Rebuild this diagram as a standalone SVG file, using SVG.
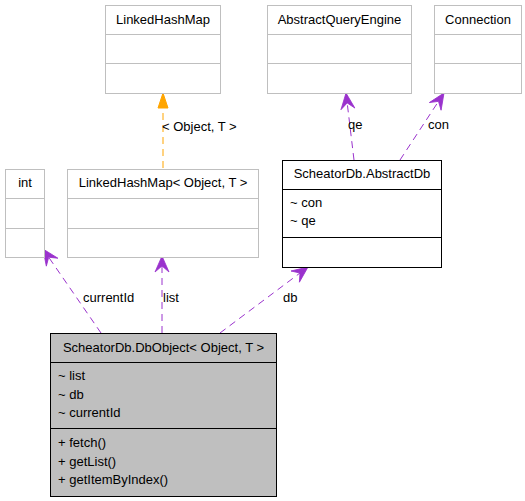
<svg xmlns="http://www.w3.org/2000/svg" width="525" height="501" viewBox="0 0 525 501">
<style>
text{font-family:"Liberation Sans",Arial,sans-serif;font-size:13px;fill:#000}
.t{text-anchor:middle}
.g rect,.g line{stroke:#bfbfbf;fill:#fff;stroke-width:1}
.k rect,.k line{stroke:#000;fill:#fff;stroke-width:1}
.d rect{fill:#bfbfbf}
.e{stroke:#9a32cd;stroke-width:1;fill:none;stroke-dasharray:7,5}
.o{stroke:#ffa500;stroke-width:1;fill:none;stroke-dasharray:7,5}
</style>
<defs>
<marker id="v" markerUnits="userSpaceOnUse" markerWidth="18" markerHeight="18" refX="16" refY="7" orient="auto" overflow="visible">
<path d="M0,0 L16,7 L0,14 L6,7 Z" fill="#9a32cd" stroke="#9a32cd" stroke-width="0.8" stroke-dasharray="none"/>
</marker>
<marker id="f" markerUnits="userSpaceOnUse" markerWidth="18" markerHeight="18" refX="15" refY="5" orient="auto" overflow="visible">
<path d="M0,0 L15,5 L0,10 Z" fill="#ffa500" stroke="#ffa500" stroke-width="1" stroke-dasharray="none"/>
</marker>
</defs>
<g id="connectors">
<line class="o" x1="163" y1="168" x2="163" y2="93" marker-end="url(#f)"/>
<text x="162" y="131">&lt; Object, T &gt;</text>
<line class="e" x1="354" y1="160" x2="346" y2="93" marker-end="url(#v)"/>
<text x="348" y="129">qe</text>
<line class="e" x1="400" y1="160" x2="444" y2="93" marker-end="url(#v)"/>
<text x="428" y="129">con</text>
<line class="e" x1="101" y1="333" x2="43" y2="249" marker-end="url(#v)"/>
<text x="83" y="302">currentId</text>
<line class="e" x1="162" y1="333" x2="162" y2="256" marker-end="url(#v)"/>
<text x="163" y="302">list</text>
<line class="e" x1="220" y1="333" x2="308" y2="267" marker-end="url(#v)"/>
<text x="283" y="302">db</text>
</g>
<g id="LinkedHashMap" class="g">
<rect x="105.5" y="5.5" width="115" height="88"/>
<line x1="105.5" y1="34.5" x2="220.5" y2="34.5"/>
<line x1="105.5" y1="63.5" x2="220.5" y2="63.5"/>
<text class="t" x="163" y="24">LinkedHashMap</text>
</g>
<g id="AbstractQueryEngine" class="g">
<rect x="267.5" y="5.5" width="144" height="88"/>
<line x1="267.5" y1="34.5" x2="411.5" y2="34.5"/>
<line x1="267.5" y1="63.5" x2="411.5" y2="63.5"/>
<text class="t" x="339.5" y="24">AbstractQueryEngine</text>
</g>
<g id="Connection" class="g">
<rect x="434.5" y="5.5" width="87" height="88"/>
<line x1="434.5" y1="34.5" x2="521.5" y2="34.5"/>
<line x1="434.5" y1="63.5" x2="521.5" y2="63.5"/>
<text class="t" x="478" y="24">Connection</text>
</g>
<g id="int" class="g">
<rect x="5.5" y="169.5" width="39" height="88"/>
<line x1="5.5" y1="198.5" x2="44.5" y2="198.5"/>
<line x1="5.5" y1="228.5" x2="44.5" y2="228.5"/>
<text class="t" x="25" y="187">int</text>
</g>
<g id="LinkedHashMapObjectT" class="g">
<rect x="67.5" y="169.5" width="191" height="88"/>
<line x1="67.5" y1="198.5" x2="258.5" y2="198.5"/>
<line x1="67.5" y1="228.5" x2="258.5" y2="228.5"/>
<text class="t" x="163" y="187">LinkedHashMap&lt; Object, T &gt;</text>
</g>
<g id="AbstractDb" class="k">
<rect x="282.5" y="160.5" width="159" height="107"/>
<line x1="282.5" y1="189.5" x2="441.5" y2="189.5"/>
<line x1="282.5" y1="237.5" x2="441.5" y2="237.5"/>
<text class="t" x="362" y="178">ScheatorDb.AbstractDb</text>
<text x="290" y="207">~ con</text>
<text x="290" y="225">~ qe</text>
</g>
<g id="DbObject" class="k d">
<rect x="50.5" y="333.5" width="226" height="163"/>
<line x1="50.5" y1="362.5" x2="276.5" y2="362.5"/>
<line x1="50.5" y1="428.5" x2="276.5" y2="428.5"/>
<text class="t" x="163.5" y="352">ScheatorDb.DbObject&lt; Object, T &gt;</text>
<text x="58" y="380">~ list</text>
<text x="58" y="399">~ db</text>
<text x="58" y="417">~ currentId</text>
<text x="58" y="447">+ fetch()</text>
<text x="58" y="466">+ getList()</text>
<text x="58" y="484">+ getItemByIndex()</text>
</g>
</svg>
